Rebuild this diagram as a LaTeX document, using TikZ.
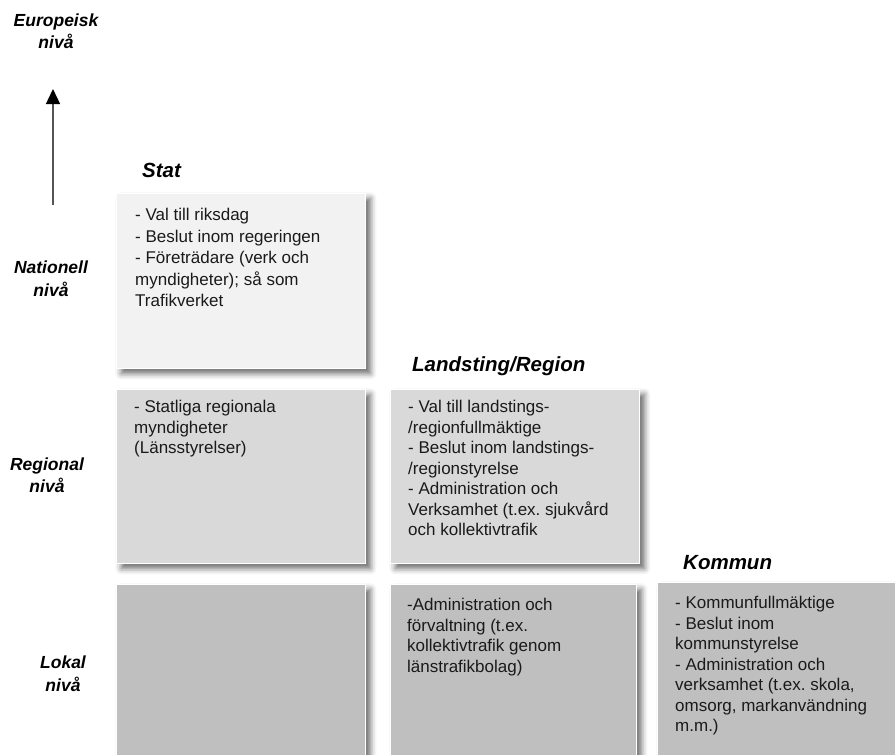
\documentclass[tikz,border=0pt]{standalone}
\usepackage{fontspec}
\setmainfont{Liberation Sans}
\usetikzlibrary{arrows.meta,shadows.blur}
\definecolor{natfill}{HTML}{F2F2F2}
\definecolor{regfill}{HTML}{D9D9D9}
\definecolor{lokfill}{HTML}{BFBFBF}
\definecolor{textc}{HTML}{1A1A1A}
\definecolor{arrowgray}{HTML}{555555}
\begin{document}
\begin{tikzpicture}[x=1pt,y=-1pt,
  box/.style={draw=white, line width=0.8pt, anchor=north west, inner sep=0pt,
    blur shadow={shadow xshift=5pt, shadow yshift=-5pt, shadow blur radius=6pt, shadow opacity=60}},
  body/.style={anchor=north west, align=left, inner sep=0pt, text=textc,
    font=\fontsize{17}{20.5}\selectfont\frenchspacing},
  head/.style={anchor=west, inner sep=0pt, text=black,
    font=\fontsize{20.5}{22}\selectfont\bfseries\itshape},
  lvl/.style={align=center, inner sep=0pt, text=black,
    font=\fontsize{17.5}{22.5}\selectfont\bfseries\itshape}]
\useasboundingbox (0,0) rectangle (895,755);

% level labels
\node[lvl] (eur) at (56,31) {Europeisk\\nivå};
\node[lvl] (nat) at (51,278.5) {Nationell\\nivå};
\node[lvl] (reg) at (47,475) {Regional\\nivå};
\node[lvl] (lok) at (63,673.5) {Lokal\\nivå};

% arrow
\coordinate (arrS) at (53,205);
\coordinate (arrE) at (53,89);
\draw[line width=1.3pt, draw=arrowgray, -{Triangle[length=15pt,width=14pt,color=black]}] (arrS) -- (arrE);

% headers
\node[head] (hstat) at (142,170) {Stat};
\node[head] (hland) at (412,366) {Landsting/Region};
\node[head] (hkom) at (683,563) {Kommun};

% boxes
\node[box, fill=natfill, minimum width=249pt, minimum height=175pt] (stat) at (116,193) {};
\node[box, fill=regfill, minimum width=249pt, minimum height=174pt] (regA) at (116,389) {};
\node[box, fill=regfill, minimum width=249pt, minimum height=174pt] (land) at (390,389) {};
\node[box, fill=lokfill, minimum width=249pt, minimum height=175pt] (lokA) at (116,584) {};
\node[box, fill=lokfill, minimum width=246pt, minimum height=175pt] (lokB) at (390,584) {};
\node[box, fill=lokfill, minimum width=240pt, minimum height=177pt] (kom) at (657,582) {};

% texts
\node[body, font=\fontsize{17}{21.5}\selectfont\frenchspacing] (tstat) at ([xshift=19pt,yshift=-15pt]stat.north west)
  {- Val till riksdag\\- Beslut inom regeringen\\- Företrädare (verk och\\myndigheter); så som\\Trafikverket};
\node[body] (tregA) at ([xshift=18pt,yshift=-11pt]regA.north west)
  {- Statliga regionala\\myndigheter\\(Länsstyrelser)};
\node[body] (tland) at ([xshift=18pt,yshift=-11pt]land.north west)
  {- Val till landstings-\\/regionfullmäktige\\- Beslut inom landstings-\\/regionstyrelse\\- Administration och\\Verksamhet (t.ex. sjukvård\\och kollektivtrafik};
\node[body] (tlokB) at ([xshift=17pt,yshift=-14pt]lokB.north west)
  {-Administration och\\förvaltning (t.ex.\\kollektivtrafik genom\\länstrafikbolag)};
\node[body] (tkom) at ([xshift=18pt,yshift=-14pt]kom.north west)
  {- Kommunfullmäktige\\- Beslut inom\\kommunstyrelse\\- Administration och\\verksamhet (t.ex. skola,\\omsorg, markanvändning\\m.m.)};
\end{tikzpicture}
\end{document}
